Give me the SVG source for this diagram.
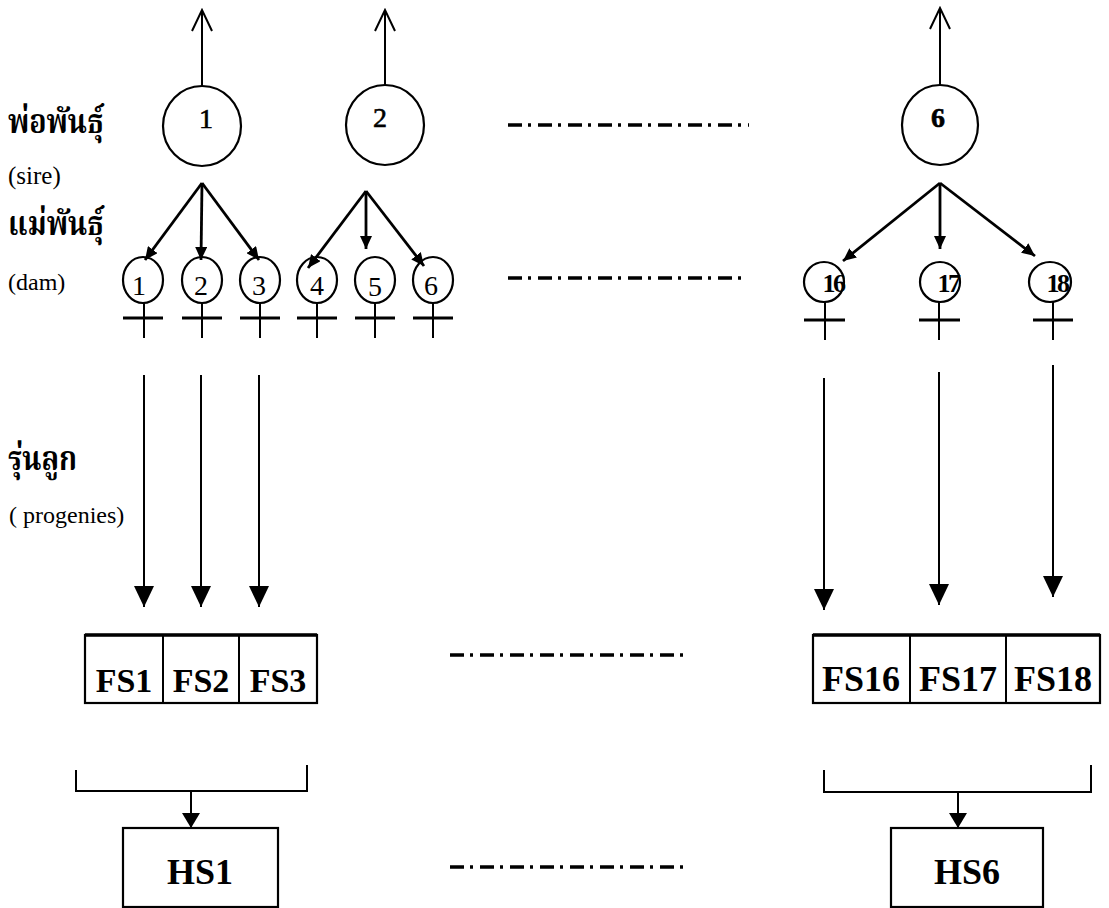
<svg xmlns="http://www.w3.org/2000/svg" width="1109" height="908" viewBox="0 0 1109 908">
  <style>
    .line { stroke: #000; stroke-width: 2; fill: none; }
    .fanline { stroke: #000; stroke-width: 2.8; fill: none; }
    .node { stroke: #000; stroke-width: 2.2; fill: #fff; }
    .bar { stroke: #000; stroke-width: 3; }
    .dashdot { stroke: #000; stroke-width: 3.5; stroke-dasharray: 14 6 3 7; fill: none; }
    .num { font-family: 'Liberation Serif', 'DejaVu Serif', serif; font-size: 28px; text-anchor: middle; fill: #000; stroke: #000; stroke-width: 0.6; }
    .dnum { font-family: 'Liberation Serif', 'DejaVu Serif', serif; font-size: 28px; text-anchor: middle; fill: #000; }
    .dnum2 { font-family: 'Liberation Serif', 'DejaVu Serif', serif; font-size: 26px; font-weight: bold; text-anchor: middle; fill: #000; letter-spacing: -2.5px; }
    .box { font-family: 'Liberation Serif', 'DejaVu Serif', serif; font-size: 34px; font-weight: bold; text-anchor: middle; fill: #000; }
    .box2 { font-family: 'Liberation Serif', 'DejaVu Serif', serif; font-size: 36px; font-weight: bold; text-anchor: middle; fill: #000; }
    .thai { font-family: 'Liberation Serif', 'Noto Serif Thai', 'Noto Sans Thai', 'DejaVu Sans', serif; font-size: 34px; font-weight: bold; fill: #000; }
    .en { font-family: 'Liberation Serif', 'DejaVu Serif', serif; font-size: 24px; fill: #000; }
  </style>
  <defs>
    <marker id="open" viewBox="0 0 24 22" refX="22" refY="11" markerWidth="24" markerHeight="22" markerUnits="userSpaceOnUse" orient="auto">
      <path d="M1,1 L22,11 L1,21" fill="none" stroke="#000" stroke-width="2"/>
    </marker>
    <marker id="fan" viewBox="0 0 13 12" refX="13" refY="6" markerWidth="13" markerHeight="12" markerUnits="userSpaceOnUse" orient="auto">
      <path d="M0,0 L13,6 L0,12 z" fill="#000"/>
    </marker>
    <marker id="big" viewBox="0 0 21 20" refX="21" refY="10" markerWidth="21" markerHeight="20" markerUnits="userSpaceOnUse" orient="auto">
      <path d="M0,0 L21,10 L0,20 z" fill="#000"/>
    </marker>
    <marker id="mid" viewBox="0 0 15 18" refX="15" refY="9" markerWidth="15" markerHeight="18" markerUnits="userSpaceOnUse" orient="auto">
      <path d="M0,0 L15,9 L0,18 z" fill="#000"/>
    </marker>
  </defs>

  <rect width="1109" height="908" fill="#fff"/>

  <!-- row labels (Thai headings are set narrow and tall) -->
  <g id="labels">
    <text class="thai" transform="translate(8,133) scale(0.84,1)">พ่อพันธุ์</text>
    <text class="en" x="8" y="184" style="font-size:25px">(sire)</text>
    <text class="thai" transform="translate(8,235) scale(0.84,1)">แม่พันธุ์</text>
    <text class="en" x="8" y="290">(dam)</text>
    <text class="thai" transform="translate(8,470) scale(0.84,1)">รุ่นลูก</text>
    <text class="en" x="9" y="523">( progenies)</text>
  </g>

  <!-- sires -->
  <g id="sire-1">
    <ellipse class="node" cx="202" cy="126" rx="39" ry="40"/>
    <text class="num" x="206" y="128">1</text>
  </g>
  <g id="sire-2">
    <ellipse class="node" cx="385" cy="125" rx="39" ry="40"/>
    <text class="num" x="380" y="127">2</text>
  </g>
  <g id="sire-6">
    <ellipse class="node" cx="940" cy="125" rx="38" ry="40"/>
    <text class="num" x="938" y="127" style="font-weight:bold">6</text>
  </g>

  <!-- dams (female symbols) -->
  <g id="dam-1">
    <ellipse class="node" cx="143" cy="280" rx="20" ry="23"/>
    <line class="line" x1="144" y1="303" x2="144" y2="338"/>
    <line class="bar" x1="123" y1="318" x2="163" y2="318"/>
    <text class="dnum" x="139" y="295">1</text>
  </g>
  <g id="dam-2">
    <ellipse class="node" cx="202" cy="280" rx="20" ry="23"/>
    <line class="line" x1="202" y1="303" x2="202" y2="338"/>
    <line class="bar" x1="182" y1="318" x2="222" y2="318"/>
    <text class="dnum" x="201" y="295">2</text>
  </g>
  <g id="dam-3">
    <ellipse class="node" cx="260" cy="280" rx="20" ry="23"/>
    <line class="line" x1="260" y1="303" x2="260" y2="338"/>
    <line class="bar" x1="240" y1="318" x2="280" y2="318"/>
    <text class="dnum" x="259" y="295">3</text>
  </g>
  <g id="dam-4">
    <ellipse class="node" cx="317" cy="280" rx="20" ry="23"/>
    <line class="line" x1="317" y1="303" x2="317" y2="338"/>
    <line class="bar" x1="297" y1="318" x2="337" y2="318"/>
    <text class="dnum" x="317" y="295">4</text>
  </g>
  <g id="dam-5">
    <ellipse class="node" cx="375" cy="280" rx="20" ry="23"/>
    <line class="line" x1="375" y1="303" x2="375" y2="338"/>
    <line class="bar" x1="355" y1="318" x2="395" y2="318"/>
    <text class="dnum" x="375" y="296">5</text>
  </g>
  <g id="dam-6">
    <ellipse class="node" cx="433" cy="280" rx="20" ry="23"/>
    <line class="line" x1="433" y1="303" x2="433" y2="338"/>
    <line class="bar" x1="413" y1="318" x2="453" y2="318"/>
    <text class="dnum" x="431" y="295">6</text>
  </g>
  <g id="dam-16">
    <ellipse class="node" cx="824" cy="282" rx="20" ry="20"/>
    <line class="line" x1="825" y1="302" x2="825" y2="340"/>
    <line class="bar" x1="804" y1="320" x2="845" y2="320"/>
    <text class="dnum2" x="833" y="292">16</text>
  </g>
  <g id="dam-17">
    <ellipse class="node" cx="940" cy="282" rx="20" ry="20"/>
    <line class="line" x1="939" y1="302" x2="939" y2="340"/>
    <line class="bar" x1="919" y1="320" x2="960" y2="320"/>
    <text class="dnum2" x="948" y="292">17</text>
  </g>
  <g id="dam-18">
    <ellipse class="node" cx="1050" cy="282" rx="21" ry="20"/>
    <line class="line" x1="1053" y1="302" x2="1053" y2="340"/>
    <line class="bar" x1="1033" y1="320" x2="1073" y2="320"/>
    <text class="dnum2" x="1057" y="292">18</text>
  </g>

  <!-- full-sib families -->
  <g id="fs-1-3">
    <rect class="node" x="85" y="635" width="232" height="68"/>
    <line class="line" x1="85" y1="635" x2="317" y2="635" style="stroke-width:3.5"/>
    <line class="line" x1="163" y1="635" x2="163" y2="703"/>
    <line class="line" x1="239" y1="635" x2="239" y2="703"/>
    <text class="box" x="124" y="692">FS1</text>
    <text class="box" x="201" y="692">FS2</text>
    <text class="box" x="278" y="692">FS3</text>
  </g>
  <g id="fs-16-18">
    <rect class="node" x="813" y="635" width="287" height="68"/>
    <line class="line" x1="813" y1="635" x2="1100" y2="635" style="stroke-width:3.5"/>
    <line class="line" x1="910" y1="635" x2="910" y2="703"/>
    <line class="line" x1="1006" y1="635" x2="1006" y2="703"/>
    <text class="box2" x="861" y="691">FS16</text>
    <text class="box2" x="958" y="691">FS17</text>
    <text class="box2" x="1053" y="691">FS18</text>
  </g>

  <!-- half-sib families -->
  <g id="hs-1">
    <rect class="node" x="123" y="828" width="155" height="79"/>
    <text class="box2" x="200" y="884">HS1</text>
  </g>
  <g id="hs-6">
    <rect class="node" x="891" y="828" width="152" height="79"/>
    <text class="box2" x="967" y="884">HS6</text>
  </g>

  <!-- connectors -->
  <g id="connectors">
    <!-- sires continue upward -->
    <line class="line" x1="202" y1="86" x2="202" y2="10" marker-end="url(#open)"/>
    <line class="line" x1="385" y1="85" x2="385" y2="10" marker-end="url(#open)"/>
    <line class="line" x1="940" y1="85" x2="940" y2="8" marker-end="url(#open)"/>

    <!-- sire 1 to dams 1-3 -->
    <line class="fanline" x1="202" y1="183" x2="145" y2="260" marker-end="url(#fan)"/>
    <line class="fanline" x1="202" y1="183" x2="201" y2="260" marker-end="url(#fan)"/>
    <line class="fanline" x1="202" y1="183" x2="259" y2="260" marker-end="url(#fan)"/>

    <!-- sire 2 to dams 4-6 -->
    <line class="fanline" x1="366" y1="191" x2="308" y2="268" marker-end="url(#fan)"/>
    <line class="fanline" x1="366" y1="191" x2="366" y2="249" marker-end="url(#fan)"/>
    <line class="fanline" x1="366" y1="191" x2="424" y2="266" marker-end="url(#fan)"/>

    <!-- sire 6 to dams 16-18 -->
    <line class="fanline" x1="940" y1="183" x2="843" y2="261" marker-end="url(#fan)"/>
    <line class="fanline" x1="940" y1="183" x2="940" y2="249" marker-end="url(#fan)"/>
    <line class="fanline" x1="940" y1="183" x2="1035" y2="256" marker-end="url(#fan)"/>

    <!-- dams to full-sib families -->
    <line class="line" x1="144" y1="375" x2="144" y2="607" marker-end="url(#big)"/>
    <line class="line" x1="201" y1="375" x2="201" y2="607" marker-end="url(#big)"/>
    <line class="line" x1="259" y1="375" x2="259" y2="607" marker-end="url(#big)"/>
    <line class="line" x1="824" y1="378" x2="824" y2="610" marker-end="url(#big)"/>
    <line class="line" x1="939" y1="372" x2="939" y2="605" marker-end="url(#big)"/>
    <line class="line" x1="1053" y1="365" x2="1053" y2="597" marker-end="url(#big)"/>

    <!-- full-sib families grouped into half-sib families -->
    <path class="line" d="M76,770 V791 H307 V765"/>
    <line class="line" x1="191" y1="791" x2="191" y2="828" marker-end="url(#mid)"/>
    <path class="line" d="M824,770 V792 H1091 V765"/>
    <line class="line" x1="958" y1="792" x2="958" y2="828" marker-end="url(#mid)"/>

    <!-- omitted families -->
    <line class="dashdot" x1="508" y1="125" x2="749" y2="125"/>
    <line class="dashdot" x1="508" y1="278" x2="747" y2="278"/>
    <line class="dashdot" x1="450" y1="655" x2="690" y2="655"/>
    <line class="dashdot" x1="450" y1="867" x2="690" y2="867"/>
  </g>
</svg>
